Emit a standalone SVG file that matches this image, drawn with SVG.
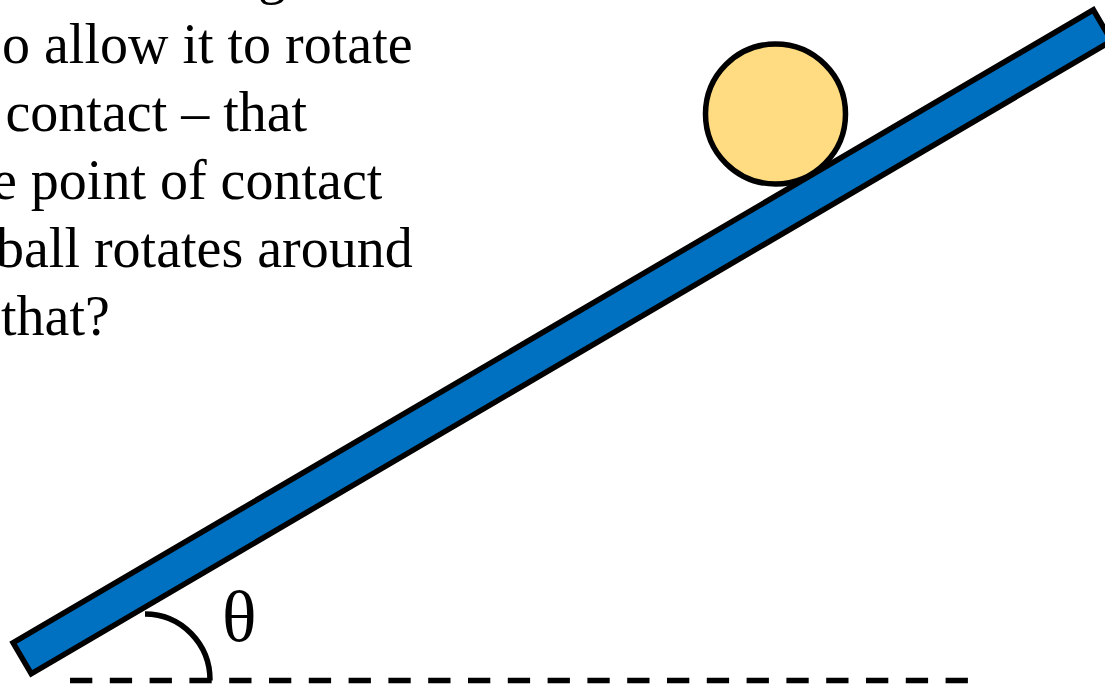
<svg xmlns="http://www.w3.org/2000/svg" width="1105" height="688" viewBox="0 0 1105 688">
  <style>
    .txt { font-family: "Liberation Serif", "Times New Roman", serif; font-size: 56px; fill: #000; }
    .theta { font-family: "Liberation Serif", "Times New Roman", serif; font-size: 72px; fill: #000; }
    .outline { stroke: #000; stroke-width: 5.5; stroke-linejoin: miter; }
  </style>
  <rect width="1105" height="688" fill="#fff"/>
  <g id="text">
    <text class="txt" x="258" y="-7">g</text>
    <text class="txt" x="2" y="63">o allow it to rotate</text>
    <text class="txt" x="5.5" y="131">contact – that</text>
    <text class="txt" x="-8" y="199">e point of contact</text>
    <text class="txt" x="-4" y="267">ball rotates around</text>
    <text class="txt" x="1" y="335">that?</text>
  </g>
  <g id="ball">
    <circle class="outline" cx="775.5" cy="114" r="70" fill="#FFDC82"/>
  </g>
  <g id="incline">
    <g transform="translate(9.3,641.7) rotate(-30.36)">
      <rect class="outline" x="2.75" y="2.75" width="1252" height="36" fill="#0070C0"/>
    </g>
  </g>
  <g id="connectors">
    <line x1="70" y1="680.5" x2="969" y2="680.5" stroke="#000" stroke-width="5.5" stroke-dasharray="22.3 17.5"/>
    <path d="M 145 614 A 65 66 0 0 1 210 680.5" fill="none" stroke="#000" stroke-width="5.5"/>
  </g>
  <g id="angle-label">
    <text class="theta" x="222" y="641">θ</text>
  </g>
</svg>
